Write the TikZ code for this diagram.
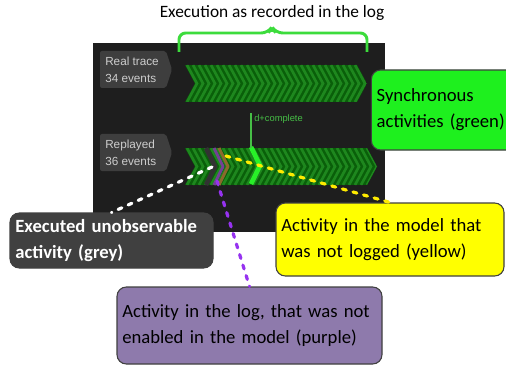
\documentclass[tikz,border=0pt]{standalone}
\usepackage{fontspec}
\setmainfont{Carlito}
\newfontfamily\screenFont{Liberation Sans}
\usetikzlibrary{positioning}
\definecolor{panelGrey}{RGB}{30,30,30}
\definecolor{tagGrey}{RGB}{62,62,62}
\definecolor{tagText}{RGB}{205,205,205}
\definecolor{barDark}{RGB}{10,95,10}
\definecolor{barStripe}{RGB}{30,135,30}
\definecolor{braceGreen}{RGB}{60,220,60}
\definecolor{labelGreen}{RGB}{70,190,70}
\definecolor{syncGreen}{RGB}{30,240,30}
\definecolor{missYellow}{RGB}{255,255,0}
\definecolor{logPurple}{RGB}{142,122,172}
\definecolor{unobsGrey}{RGB}{64,64,64}
\definecolor{dotYellow}{RGB}{255,235,0}
\definecolor{dotPurple}{RGB}{150,50,240}
\definecolor{hitBrown}{RGB}{140,105,45}
\definecolor{hitPurple}{RGB}{115,65,150}
\definecolor{hitGrey}{RGB}{50,50,50}
\definecolor{hitGreen}{RGB}{40,240,40}
\newcommand{\traceTag}[4]{%%
  %% Grey tag with a pointed right side.
  \fill[tagStyle] (#2,#3) -- (#2+66,#3) -- (#2+72,#3+18.5) -- (#2+66,#3+37) -- (#2,#3+37) -- cycle;
  \node (#1) at (#2+5,#3+18.5) [tagTextStyle] {#4};
}
\newcommand{\chevronBar}[3]{%%
  \pgfmathsetmacro{\barMid}{#3+18.5}
  \pgfmathsetmacro{\barLow}{#3+37}
  \begin{scope}
    \clip (#1,#3) -- (#2-10,#3) -- (#2,\barMid) -- (#2-10,\barLow) -- (#1,\barLow) -- (#1+10,\barMid) -- cycle;
    \fill[barDark] (#1,#3) rectangle (#2,\barLow);
    \foreach \k in {0,...,34} {
      \pgfmathsetmacro{\stripeX}{#1-4+6*\k}
      \draw[stripeStyle] (\stripeX,#3) -- (\stripeX+10,\barMid) -- (\stripeX,\barLow);
    }
  \end{scope}
}
\newcommand{\hitChevron}[3]{%%
  \draw[hitStyle,#1] (#2,#3) -- (#2+9,#3+18.5) -- (#2,#3+37);
}

\begin{document}
\begin{tikzpicture}[x=0.75pt,y=-0.75pt,%%
  stripeStyle/.style={barStripe,line width=2pt},%%
  tagStyle/.style={tagGrey,rounded corners=1.5pt},%%
  tagTextStyle/.style={anchor=west,align=left,text=tagText,inner sep=0pt,%%
    font=\screenFont\fontsize{8.8}{12.75}\selectfont},%%
  hitStyle/.style={line width=2.2pt,line join=round},%%
  braceStyle/.style={braceGreen,line width=2.2pt,rounded corners=5pt},%%
  calloutStyle/.style={draw=black!75,line width=0.8pt,rounded corners=7pt,align=left,%%
    inner xsep=4pt,inner ysep=0pt,font=\fontsize{14}{19.5}\selectfont},%%
  dotStyle/.style={line width=2.4pt,line cap=round,dash pattern=on 3pt off 5.25pt}%%
]
%%
%%
\useasboundingbox (0,0) rectangle (506,367);
\fill[white] (0,0) rectangle (506,367);
%%
\coordinate (greyHit) at (212,167);
\coordinate (yellowHit) at (226,156);
\coordinate (purpleHit) at (217,181);
\coordinate (completeTop) at (251,113);
\coordinate (completeFoot) at (251,148);
%%
%% The screenshot of the log view.
\fill[panelGrey] (93,43) rectangle (385,232);
\traceTag{realTag}{100}{51}{Real trace\\34 events}
\traceTag{replayTag}{100}{134}{Replayed\\36 events}
\chevronBar{185}{367}{65}
\chevronBar{185}{377}{148}
%%
%% Moves that differ from the log.
\hitChevron{line width=3.5pt,hitGrey}{206}{148}
\hitChevron{hitPurple}{214}{148}
\hitChevron{hitBrown}{219}{148}
\hitChevron{line width=3.5pt,hitGreen}{251}{147}
\draw[labelGreen,line width=0.8pt] (completeTop) -- (completeFoot);
\node (completeLabel) at (254,119) [anchor=west,inner sep=0pt,text=labelGreen,%%
  font=\screenFont\fontsize{7}{8}\selectfont] {d+complete};
%%
%% The brace over the real trace.
\draw[braceStyle] (179,52) -- (179,33) -- (268,33) -- (272,27) -- (276,33) -- (367,33) -- (367,52);
\node (logTitle) at (272,13) [font=\fontsize{13}{15}\selectfont] {Execution as recorded in the log};
%%
%% The callouts.
\node (syncBox) at (446,110) [calloutStyle,fill=syncGreen,minimum height=60pt,%%
  text width=104pt] {Synchronous\\activities (green)};
\node (unobsBox) at (111.5,240.5) [calloutStyle,fill=unobsGrey,text=white,%%
  font=\bfseries\fontsize{14}{19.5}\selectfont,%%
  minimum height=41.25pt,text width=144.25pt] {Executed unobservable\\activity (grey)};
\node (missBox) at (390,239.5) [calloutStyle,fill=missYellow,%%
  minimum height=54.75pt,text width=163pt] {Activity in the model that\\was not logged (yellow)};
\node (logBox) at (249.5,325.5) [calloutStyle,fill=logPurple,%%
  minimum height=57.75pt,text width=190.75pt] {Activity in the log, that was not\\enabled in the model (purple)};
%%
\draw[dotStyle,white] (greyHit) -- (unobsBox.north);
\draw[dotStyle,dotYellow] (yellowHit) -- (missBox.north);
\draw[dotStyle,dotPurple] (purpleHit) -- (logBox.north);
\end{tikzpicture}
\end{document}
